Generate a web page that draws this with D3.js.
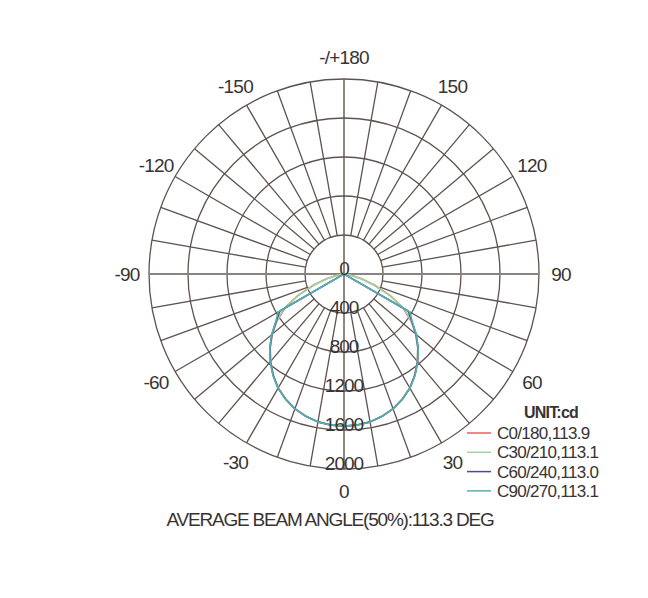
<!DOCTYPE html>
<html>
<head>
<meta charset="utf-8">
<script src="https://cdn.jsdelivr.net/npm/d3@7"></script>
<style>
  html, body { margin: 0; padding: 0; background: #fff; }
  svg text { font-family: "Liberation Sans", Arial, sans-serif; fill: #383333; }
</style>
</head>
<body>
<div id="chart"></div>
<script>
(function() {

    // gamma angles (deg), 0 = straight down, 5 deg steps from -90 to 90
    var gammas = [-90, -85, -80, -75, -70, -65, -60, -55, -50, -45, -40, -35, -30, -25, -20, -15, -10, -5,
                  0, 5, 10, 15, 20, 25, 30, 35, 40, 45, 50, 55, 60, 65, 70, 75, 80, 85, 90];
    // intensity (cd) per C-plane
    var c0 = [0, 20, 70, 180, 330, 520, 700, 840, 960, 1070, 1170, 1265, 1350, 1415, 1470, 1510, 1540, 1555,
              1560, 1555, 1540, 1510, 1470, 1415, 1350, 1265, 1170, 1070, 960, 840, 700, 520, 330, 180, 70, 20, 0];
    var c30 = [0, 15, 60, 170, 320, 510, 710, 845, 962, 1072, 1172, 1266, 1350, 1415, 1470, 1510, 1540, 1555,
               1560, 1555, 1540, 1510, 1470, 1415, 1350, 1266, 1172, 1072, 962, 845, 710, 510, 320, 170, 60, 15, 0];
    var c60 = [0, 0, 0, 0, 0, 0, 760, 850, 966, 1075, 1175, 1268, 1352, 1417, 1472, 1511, 1540, 1555,
               1560, 1555, 1540, 1511, 1472, 1417, 1352, 1268, 1175, 1075, 966, 850, 760, 0, 0, 0, 0, 0, 0];
    var c90 = [0, 0, 0, 0, 0, 0, 780, 855, 970, 1078, 1178, 1270, 1353, 1418, 1472, 1512, 1541, 1556,
               1560, 1556, 1541, 1512, 1472, 1418, 1353, 1270, 1178, 1078, 970, 855, 780, 0, 0, 0, 0, 0, 0];

    var seriesNames = ["C0/180,113.9", "C30/210,113.1", "C60/240,113.0", "C90/270,113.1"];
    var seriesColors = ["#e8615a", "#9fd39f", "#4a4a92", "#55b0b3"];
    var ringValues = [400, 800, 1200, 1600, 2000];
    var angleLabels = [
        {a: 180, t: "-/+180"}, {a: -150, t: "-150"}, {a: 150, t: "150"},
        {a: -120, t: "-120"}, {a: 120, t: "120"}, {a: -90, t: "-90"}, {a: 90, t: "90"},
        {a: -60, t: "-60"}, {a: 60, t: "60"}, {a: -30, t: "-30"}, {a: 30, t: "30"}, {a: 0, t: "0"}
    ];
    var title = "AVERAGE BEAM ANGLE(50%):113.3 DEG";

    var width = 648, height = 598;
    var cx = 344, cy = 274, R = 195;

    var svg = d3.select("#chart")
        .append("svg")
        .attr("width", width)
        .attr("height", height);

    var r = d3.scaleLinear().domain([0, 2000]).range([0, R]);
    var rad = function(deg) { return deg * Math.PI / 180; };
    // point on the chart, angle measured from straight down, positive to the right
    function pt(deg, radius) {
        return [cx + radius * Math.sin(rad(deg)), cy + radius * Math.cos(rad(deg))];
    }

    var g = svg.append("g");

    // rings
    g.selectAll(".ring")
        .data(ringValues)
        .enter()
        .append("circle")
        .attr("cx", cx).attr("cy", cy)
        .attr("r", function(d) { return r(d); })
        .attr("fill", "none")
        .attr("stroke", "#5e5350")
        .attr("stroke-width", 1.3);

    // spokes every 10 deg, from first ring outward
    var spokes = d3.range(-170, 190, 10).filter(function(d) { return d % 90 !== 0; });
    g.selectAll(".spoke")
        .data(spokes)
        .enter()
        .append("line")
        .attr("x1", function(d) { return pt(d, r(400))[0]; })
        .attr("y1", function(d) { return pt(d, r(400))[1]; })
        .attr("x2", function(d) { return pt(d, R)[0]; })
        .attr("y2", function(d) { return pt(d, R)[1]; })
        .attr("stroke", "#5e5350")
        .attr("stroke-width", 1.3);

    // main axes
    g.append("line")
        .attr("x1", cx - R).attr("x2", cx + R).attr("y1", cy).attr("y2", cy)
        .attr("stroke", "#8a8280").attr("stroke-width", 2.2);
    g.append("line")
        .attr("x1", cx).attr("x2", cx).attr("y1", cy - R).attr("y2", cy + R)
        .attr("stroke", "#5e5350").attr("stroke-width", 1.4);

    // curves
    var line = d3.lineRadial()
        .angle(function(d) { return Math.PI - rad(d[0]); })
        .radius(function(d) { return r(d[1]); });
    var series = [c0, c30, c60, c90];
    series.forEach(function(vals, i) {
        svg.append("path")
            .datum(gammas.map(function(a, j) { return [a, vals[j]]; }))
            .attr("transform", "translate(" + cx + "," + cy + ")")
            .attr("d", line)
            .attr("fill", "none")
            .attr("stroke", seriesColors[i])
            .attr("stroke-width", 1.6)
            .attr("stroke-linejoin", "round");
    });

    // ring labels
    svg.selectAll(".rl")
        .data([0].concat(ringValues))
        .enter()
        .append("text")
        .attr("x", cx)
        .attr("y", function(d) { return cy + r(d) + 1; })
        .attr("text-anchor", "middle")
        .style("font-size", "19px")
        .style("letter-spacing", "-1px")
        .text(function(d) { return d; });

    // angle labels
    svg.selectAll(".al")
        .data(angleLabels)
        .enter()
        .append("text")
        .attr("x", function(d) { return pt(d.a, 217)[0]; })
        .attr("y", function(d) { return pt(d.a, 217)[1]; })
        .attr("dy", "0.35em")
        .attr("text-anchor", "middle")
        .style("font-size", "19px")
        .style("letter-spacing", "-0.8px")
        .text(function(d) { return d.t; });

    // legend
    svg.append("text")
        .attr("x", 551).attr("y", 418)
        .attr("text-anchor", "middle")
        .style("font-size", "16px")
        .style("font-weight", "bold")
        .style("letter-spacing", "-0.8px")
        .text("UNIT:cd");
    var leg = svg.selectAll(".leg")
        .data(seriesNames)
        .enter()
        .append("g")
        .attr("transform", function(d, i) { return "translate(0," + (433 + i * 19.3) + ")"; });
    leg.append("line")
        .attr("x1", 467).attr("x2", 491).attr("y1", 0).attr("y2", 0)
        .attr("stroke", function(d, i) { return seriesColors[i]; })
        .attr("stroke-width", 1.5);
    leg.append("text")
        .attr("x", 497).attr("y", 0)
        .attr("dy", "0.35em")
        .style("font-size", "17px")
        .style("letter-spacing", "-0.7px")
        .text(function(d) { return d; });

    // footer
    svg.append("text")
        .attr("x", 330).attr("y", 526)
        .attr("text-anchor", "middle")
        .style("font-size", "19px")
        .style("letter-spacing", "-1.2px")
        .text(title);

})();
</script>
</body>
</html>
